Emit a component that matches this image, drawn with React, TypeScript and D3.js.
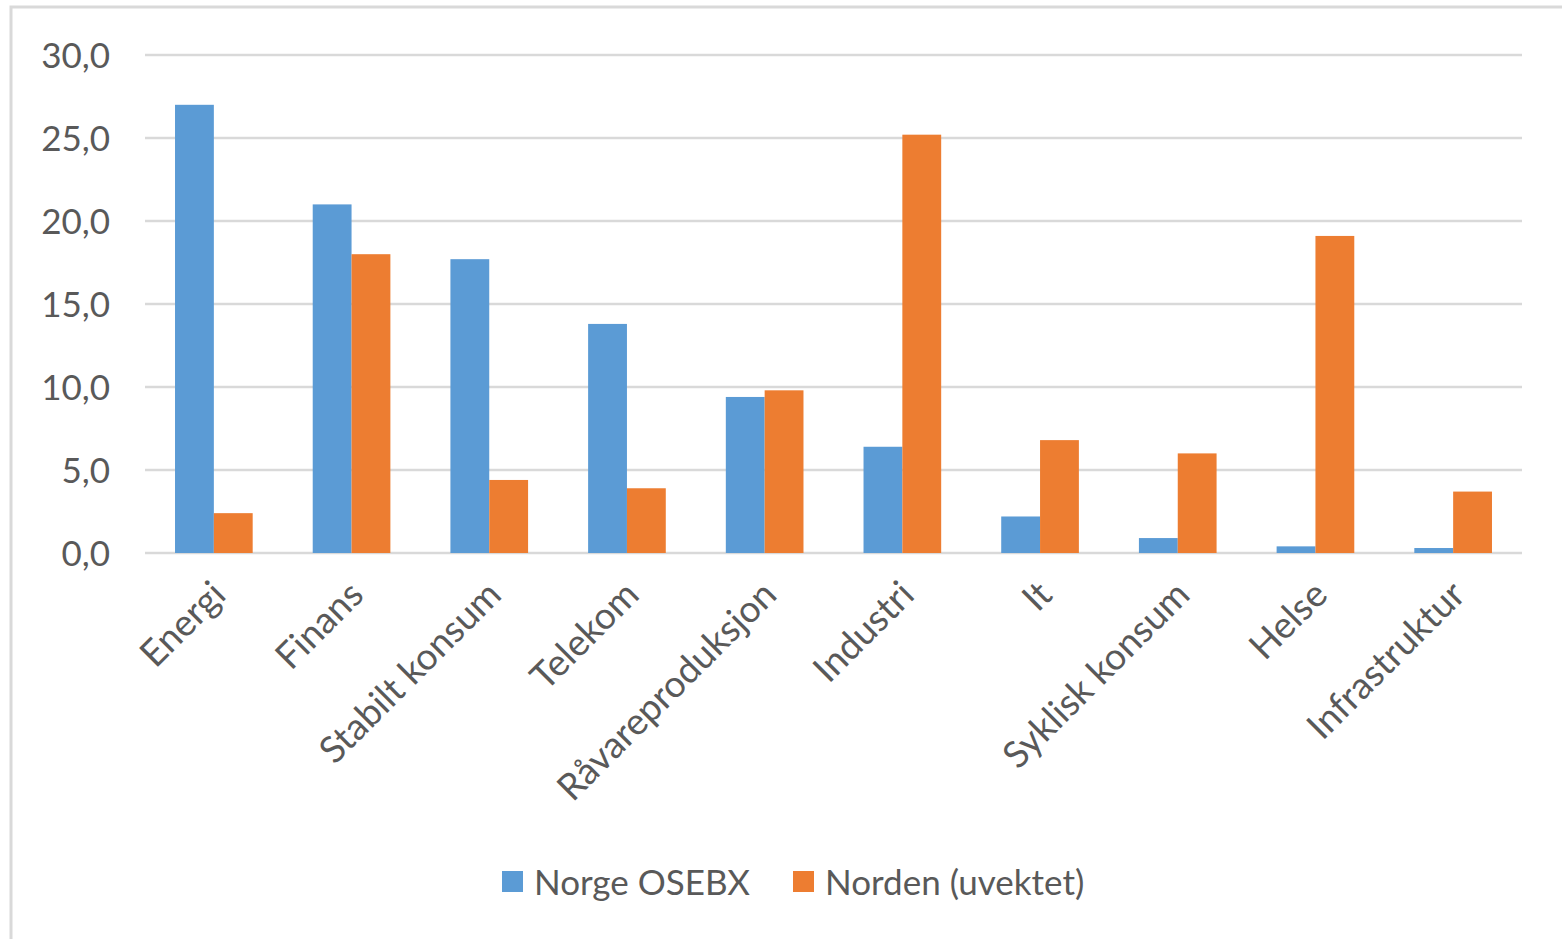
import React from "react";
import * as d3 from "d3";

const categories = [
  "Energi",
  "Finans",
  "Stabilt konsum",
  "Telekom",
  "Råvareproduksjon",
  "Industri",
  "It",
  "Syklisk konsum",
  "Helse",
  "Infrastruktur",
];
const norge = [27.0, 21.0, 17.7, 13.8, 9.4, 6.4, 2.2, 0.9, 0.4, 0.3];
const norden = [2.4, 18.0, 4.4, 3.9, 9.8, 25.2, 6.8, 6.0, 19.1, 3.7];
const seriesNames = ["Norge OSEBX", "Norden (uvektet)"];
const colors = ["#5B9BD5", "#ED7D31"];
const yTicks = [0, 5, 10, 15, 20, 25, 30];

const width = 1562;
const height = 939;
const margin = { top: 55, right: 40, bottom: 386, left: 145 };
const font = "Lato, 'Open Sans', sans-serif";

export default function App() {
  // scales
  const x = d3
    .scaleBand<string>()
    .domain(categories)
    .range([margin.left, 1522])
    .paddingInner(0.436)
    .paddingOuter(0.218);
  const inner = d3
    .scaleBand<string>()
    .domain(seriesNames)
    .range([0, x.bandwidth()]);
  const y = d3
    .scaleLinear()
    .domain([0, 30])
    .range([height - margin.bottom, margin.top]);

  const fmt = (v: number) => v.toFixed(1).replace(".", ",");
  const series = [norge, norden];

  return (
    <svg
      width={width}
      height={height}
      style={{ position: "absolute", left: 0, top: 0, background: "#fff" }}
    >
      <rect
        x={11}
        y={7}
        width={width}
        height={height}
        fill="#fff"
        stroke="#D9D9D9"
        strokeWidth={3}
      />
      {/* gridlines + y labels */}
      {yTicks.map((t) => (
        <g key={t}>
          <line
            x1={margin.left}
            x2={1522}
            y1={y(t)}
            y2={y(t)}
            stroke="#D9D9D9"
            strokeWidth={2.5}
          />
          <text
            x={110}
            y={y(t)}
            dy="0.36em"
            textAnchor="end"
            fontFamily={font}
            fontSize={35}
            fill="#595959"
          >
            {fmt(t)}
          </text>
        </g>
      ))}
      {/* bars */}
      {series.map((vals, si) =>
        vals.map((v, i) => (
          <rect
            key={`${si}-${i}`}
            x={(x(categories[i]) ?? 0) + (inner(seriesNames[si]) ?? 0)}
            y={y(v)}
            width={inner.bandwidth()}
            height={y(0) - y(v)}
            fill={colors[si]}
          />
        ))
      )}
      {/* category labels */}
      {categories.map((c) => {
        const cx = (x(c) ?? 0) + x.bandwidth() / 2 + 14;
        const cy = 597;
        return (
          <text
            key={c}
            transform={`translate(${cx},${cy}) rotate(-45)`}
            textAnchor="end"
            fontFamily={font}
            fontSize={37}
            fill="#595959"
          >
            {c}
          </text>
        );
      })}
      {/* legend */}
      {seriesNames.map((s, i) => {
        const lx = [502, 793][i];
        return (
          <g key={s}>
            <rect x={lx} y={871} width={21} height={21} fill={colors[i]} />
            <text
              x={lx + 32}
              y={882}
              dy="0.36em"
              fontFamily={font}
              fontSize={35}
              fill="#595959"
            >
              {s}
            </text>
          </g>
        );
      })}
    </svg>
  );
}
